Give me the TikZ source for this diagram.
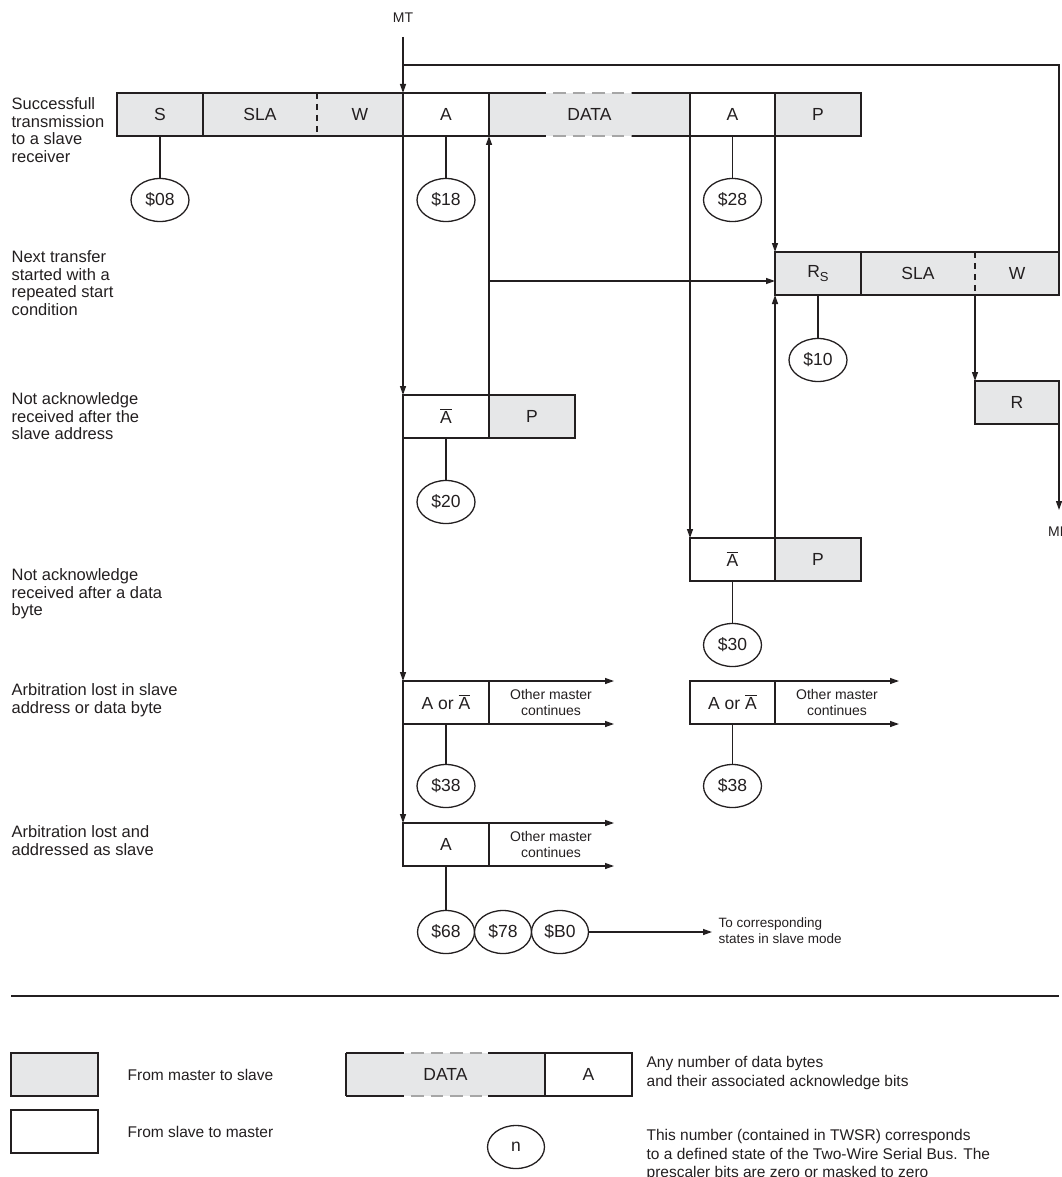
\documentclass[tikz,border=0pt]{standalone}
\usepackage{fontspec}
\setmainfont{Liberation Sans}
\usetikzlibrary{arrows.meta,shapes.geometric}
\definecolor{boxgray}{HTML}{E6E7E8}
\definecolor{ink}{HTML}{231F20}
\newcommand{\Abar}{\setbox0\hbox{A}\rlap{\raisebox{\dimexpr\ht0+1.8pt\relax}{\rule{\wd0}{1.1pt}}}\box0}
\begin{document}
\begin{tikzpicture}[x=1pt,y=-1pt,line width=1.3pt,color=ink,
  cell/.style={rectangle,draw,inner sep=0pt,outer sep=0pt,minimum height=43pt,anchor=north west,font=\fontsize{17.5}{20}\selectfont},
  grey/.style={cell,fill=boxgray},
  wht/.style={cell,fill=white},
  state/.style={ellipse,draw,fill=white,minimum width=58pt,minimum height=43pt,inner sep=0pt,font=\fontsize{17.5}{20}\selectfont},
  lbl/.style={anchor=north west,align=left,inner sep=0pt,font=\fontsize{16.5}{17.5}\selectfont},
  small/.style={align=center,inner sep=0pt,font=\fontsize{14}{16}\selectfont},
  legtxt/.style={anchor=west,align=left,inner sep=0pt,font=\fontsize{15.5}{19}\selectfont},
  arr/.style={-{Triangle[length=9pt,width=6pt]}},
  divdash/.style={dash pattern=on 6pt off 5pt},
  greydash/.style={draw=gray!70,dash pattern=on 12.5pt off 7pt,dash phase=12.5pt}]
\useasboundingbox (0,0) rectangle (1061,1177);

% ---------- left labels
\node[lbl] (l1) at (11,97) {Successfull\\transmission\\to a slave\\receiver};
\node[lbl] (l2) at (11,250) {Next transfer\\started with a\\repeated start\\condition};
\node[lbl] (l3) at (11,392) {Not acknowledge\\received after the\\slave address};
\node[lbl] (l4) at (11,568) {Not acknowledge\\received after a data\\byte};
\node[lbl] (l5) at (11,683) {Arbitration lost in slave\\address or data byte};
\node[lbl] (l6) at (11,825) {Arbitration lost and\\addressed as slave};

% ---------- MT entry and loop
\node[small] (mt) at (403,18) {MT};
\coordinate (mtc) at (403,37);
\coordinate (loopL) at (403,65);
\coordinate (loopR) at (1059,65);

% ---------- row 1
\node[grey,minimum width=86pt] (s1) at (117,93) {S};
\node[grey,draw=none,minimum width=114pt] (sla1) at (203,93) {SLA};
\node[grey,draw=none,minimum width=86pt] (w1) at (317,93) {W};
\draw (sla1.north west) rectangle (w1.south east);
\draw[divdash] (w1.north west) -- (w1.south west);
\node[wht,minimum width=86pt] (a1) at (403,93) {A};
\node[grey,draw=none,minimum width=201pt] (data1) at (489,93) {DATA};
\draw (data1.north west) -- (data1.south west);
\draw (data1.north west) -- ++(57,0);
\draw (data1.south west) -- ++(57,0);
\draw (data1.north east) -- ++(-58,0);
\draw (data1.south east) -- ++(-58,0);
\draw[greydash] ([xshift=57pt]data1.north west) -- ([xshift=-58pt]data1.north east);
\draw[greydash] ([xshift=57pt]data1.south west) -- ([xshift=-58pt]data1.south east);
\node[wht,minimum width=85pt] (a2) at (690,93) {A};
\node[grey,minimum width=86pt] (p1) at (775,93) {P};

% ---------- row 2
\node[grey,minimum width=86pt] (rs) at (775,252) {R\raisebox{-3.5pt}{\fontsize{13}{13}\selectfont S}};
\node[grey,draw=none,minimum width=114pt] (sla2) at (861,252) {SLA};
\node[grey,draw=none,minimum width=84pt] (w2) at (975,252) {W};
\draw (sla2.north west) rectangle (w2.south east);
\draw[divdash] (w2.north west) -- (w2.south west);
\node[grey,minimum width=84pt] (r2) at (975,381) {R};
\coordinate (mrc) at (1059,510);
\node[small] (mr) at (1059,532) {MR};

% ---------- row 3
\node[wht,minimum width=86pt] (abar1) at (403,395) {\Abar};
\node[grey,minimum width=86pt] (p3) at (489,395) {P};

% ---------- row 4
\node[wht,minimum width=85pt] (abar2) at (690,538) {\Abar};
\node[grey,minimum width=86pt] (p4) at (775,538) {P};

% ---------- row 5
\node[wht,minimum width=86pt] (aoa1) at (403,681) {A or \Abar};
\node[wht,minimum width=85pt] (aoa2) at (690,681) {A or \Abar};
\coordinate (e5at) at (614,681);
\coordinate (e5ab) at (614,724);
\coordinate (e5bt) at (899,681);
\coordinate (e5bb) at (899,724);
\node[small] (om1) at (551,702.5) {Other master\\continues};
\node[small] (om2) at (837,702.5) {Other master\\continues};

% ---------- row 6
\node[wht,minimum width=86pt] (ack6) at (403,823) {A};
\coordinate (e6t) at (614,823);
\coordinate (e6b) at (614,866);
\node[small] (om3) at (551,844.5) {Other master\\continues};

% ---------- states
\node[state] (st08) at (160,200) {\$08};
\node[state] (st18) at (446,200) {\$18};
\node[state] (st28) at (732.5,200) {\$28};
\node[state] (st10) at (818,360) {\$10};
\node[state] (st20) at (446,502) {\$20};
\node[state] (st30) at (732.5,645) {\$30};
\node[state] (st38a) at (446,786) {\$38};
\node[state] (st38b) at (732.5,786) {\$38};
\node[state,minimum width=57pt] (st68) at (446,932) {\$68};
\node[state,minimum width=57pt] (st78) at (503,932) {\$78};
\node[state,minimum width=57pt] (stb0) at (560,932) {\$B0};
\coordinate (slv) at (712,932);
\node[small,anchor=west,align=left,font=\fontsize{13.5}{16}\selectfont] (slvt) at (718,931) {To corresponding\\states in slave mode};

% ---------- connectors
\draw[arr] (mtc) -- (a1.north west);
\draw (loopL) -- (loopR) -- (w2.north east);
\draw (s1) -- (st08);
\draw (a1) -- (st18);
\draw (a2) -- (st28);
\draw (rs.south -| st10) -- (st10);
\draw (abar1) -- (st20);
\draw (abar2) -- (st30);
\draw (aoa1) -- (st38a);
\draw (aoa2) -- (st38b);
\draw (ack6) -- (st68);
\draw[arr] (a1.south west) -- (abar1.north west);
\draw[arr] (abar1.south west) -- (aoa1.north west);
\draw[arr] (aoa1.south west) -- (ack6.north west);
\draw[arr] (abar1.north east) -- (data1.south west);
\coordinate (jn) at (489,281);
\draw[arr] (jn) -- (jn -| rs.west);
\draw[arr] (data1.south east) -- (abar2.north west);
\draw[arr] (a2.south east) -- (rs.north west);
\draw[arr] (abar2.north east) -- (rs.south west);
\draw[arr] (w2.south west) -- (r2.north west);
\draw[arr] (r2.south east) -- (mrc);
\draw[arr] (aoa1.north east) -- (e5at);
\draw[arr] (aoa1.south east) -- (e5ab);
\draw[arr] (aoa2.north east) -- (e5bt);
\draw[arr] (aoa2.south east) -- (e5bb);
\draw[arr] (ack6.north east) -- (e6t);
\draw[arr] (ack6.south east) -- (e6b);
\draw[arr] (stb0) -- (slv);

% ---------- separator
\coordinate (sepL) at (11,996);
\coordinate (sepR) at (1059,996);
\draw (sepL) -- (sepR);

% ---------- legend
\node[grey,minimum width=87pt] (leg1) at (11,1053) {};
\node[wht,minimum width=87pt] (leg2) at (11,1110) {};
\node[legtxt] (leg1t) at (127,1075) {From master to slave};
\node[legtxt] (leg2t) at (127,1132) {From slave to master};
\node[grey,draw=none,minimum width=199pt] (dataL) at (346,1053) {DATA};
\draw (dataL.north west) -- (dataL.south west);
\draw (dataL.north west) -- ++(58,0);
\draw (dataL.south west) -- ++(58,0);
\draw (dataL.north east) -- ++(-57,0);
\draw (dataL.south east) -- ++(-57,0);
\draw[greydash] ([xshift=58pt]dataL.north west) -- ([xshift=-57pt]dataL.north east);
\draw[greydash] ([xshift=58pt]dataL.south west) -- ([xshift=-57pt]dataL.south east);
\node[wht,minimum width=87pt] (aL) at (545,1053) {A};
\node[legtxt] (anyt) at (646,1072.5) {Any number of data bytes\\and their associated acknowledge bits};
\node[state,minimum width=57pt] (nL) at (516,1147) {n};
\node[legtxt,anchor=north west,font=\fontsize{15.5}{18.5}\selectfont] (numt) at (646,1129) {This number (contained in TWSR) corresponds\\to a defined state of the Two-Wire Serial Bus. The\\prescaler bits are zero or masked to zero};
\end{tikzpicture}
\end{document}
